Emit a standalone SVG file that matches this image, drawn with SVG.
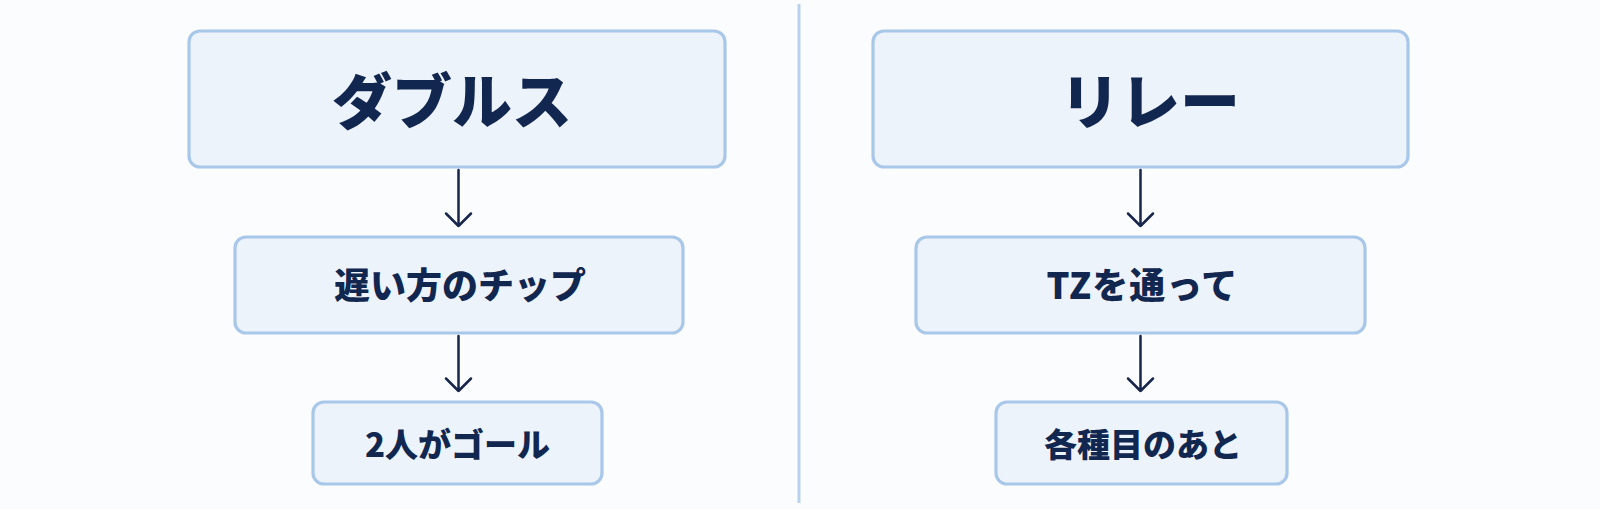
<svg xmlns="http://www.w3.org/2000/svg" width="1600" height="509" viewBox="0 0 1600 509">
  <defs>
    <style>
      .box { fill: #edf3fb; stroke: #a8c7e9; stroke-width: 3.2; }
      .lbl { font-family: "Noto Sans CJK JP", "Noto Sans", sans-serif; font-weight: 700; fill: #122750; text-anchor: middle; }
      .t1 { font-size: 60px; font-weight: 900; }
      .t2 { font-size: 36px; font-weight: 800; }
      .t3 { font-size: 33px; font-weight: 800; }
      .conn { stroke: #17264a; stroke-width: 2.5; fill: none; stroke-linecap: round; stroke-linejoin: round; }
    </style>
  </defs>
  <rect x="0" y="0" width="1600" height="509" fill="#fbfcfe"/>
  <line id="divider" x1="799" y1="4" x2="799" y2="503" stroke="#b9d1ec" stroke-width="3"/>

  <g id="doubles">
    <rect class="box" x="189" y="31" width="536" height="136" rx="11"/>
    <text class="lbl t1" x="452" y="124">ダブルス</text>
  </g>
  <g id="slower-tip">
    <rect class="box" x="235" y="237" width="448" height="96" rx="11"/>
    <text class="lbl t2" x="460" y="299">遅い方のチップ</text>
  </g>
  <g id="two-goal">
    <rect class="box" x="313" y="402" width="289" height="82" rx="11"/>
    <text class="lbl t3" x="457.5" y="457">2人がゴール</text>
  </g>

  <g id="relay">
    <rect class="box" x="873" y="31" width="535" height="136" rx="11"/>
    <text class="lbl t1" x="1150" y="124">リレー</text>
  </g>
  <g id="via-tz">
    <rect class="box" x="916" y="237" width="449" height="96" rx="11"/>
    <text class="lbl t2" x="1142.5" y="299" letter-spacing="1">TZを通って</text>
  </g>
  <g id="after-each">
    <rect class="box" x="996" y="402" width="291" height="82" rx="11"/>
    <text class="lbl t3" x="1143" y="457">各種目のあと</text>
  </g>

  <g id="connectors">
    <path class="conn" d="M458.5 170 V226 M446 213.5 L458.5 226 L471 213.5"/>
    <path class="conn" d="M458.5 336 V391 M446 378.5 L458.5 391 L471 378.5"/>
    <path class="conn" d="M1140.5 170 V226 M1128 213.5 L1140.5 226 L1153 213.5"/>
    <path class="conn" d="M1140.5 336 V391 M1128 378.5 L1140.5 391 L1153 378.5"/>
  </g>
</svg>
